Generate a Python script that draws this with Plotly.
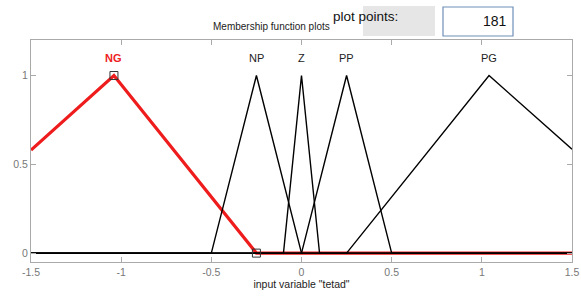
import plotly.graph_objects as go

# Membership functions (breakpoints)
mf_names = ["NG", "NP", "Z", "PP", "PG"]
ng_x = [-1.5, -1.04, -0.25, 1.5]
ng_y = [0.58, 1.0, 0.0, 0.0]
np_x = [-1.5, -0.5, -0.25, 0.0, 1.5]
np_y = [0, 0, 1, 0, 0]
z_x = [-1.5, -0.1, 0.0, 0.1, 1.5]
z_y = [0, 0, 1, 0, 0]
pp_x = [-1.5, 0.0, 0.25, 0.5, 1.5]
pp_y = [0, 0, 1, 0, 0]
pg_x = [-1.5, 0.25, 1.04, 1.5]
pg_y = [0, 0, 1, 0.585]
label_x = [-1.04, -0.25, 0.0, 0.25, 1.04]
label_y = 1.1
x_ticks = [-1.5, -1, -0.5, 0, 0.5, 1, 1.5]
y_ticks = [0, 0.5, 1]

FONT = "Liberation Sans, Arial"
L, R, T, B = 31, 9, 40, 36
W, H = 581, 298
PW, PH = W - L - R, H - T - B


def px(x):
    return (x - L) / PW


def py(y):
    return (H - B - y) / PH


fig = go.Figure()
fig.add_trace(go.Scatter(x=ng_x, y=ng_y, mode="lines",
                         line=dict(color="#ee1c1c", width=3.2), hoverinfo="skip"))
for xs, ys in [(np_x, np_y), (z_x, z_y), (pp_x, pp_y), (pg_x, pg_y)]:
    fig.add_trace(go.Scatter(x=xs, y=ys, mode="lines",
                             line=dict(color="black", width=1.4), hoverinfo="skip"))
# selection markers on NG
fig.add_trace(go.Scatter(x=[ng_x[1], ng_x[2]], y=[ng_y[1], ng_y[2]], mode="markers",
                         marker=dict(symbol="square-open", size=8, color="#333",
                                     line=dict(width=1)), hoverinfo="skip"))

for i, name in enumerate(mf_names):
    fig.add_annotation(x=label_x[i], y=label_y, text=("<b>%s</b>" % name) if i == 0 else name,
                       showarrow=False, xanchor="center", yanchor="middle",
                       font=dict(size=11, color="#ee2222" if i == 0 else "#222", family=FONT))

fig.add_annotation(x=px(271), y=py(27), xref="paper", yref="paper", yanchor="middle",
                   text="Membership function plots", showarrow=False,
                   font=dict(size=10, color="#222", family=FONT))

# plot points widgets
fig.add_shape(type="rect", xref="paper", yref="paper",
              x0=px(363), x1=px(435), y0=py(36), y1=py(6),
              fillcolor="#e6e6e6", line=dict(width=0), layer="above")
fig.add_annotation(x=px(400), y=py(17), xref="paper", yref="paper", yanchor="middle",
                   text="plot points:", showarrow=False,
                   font=dict(size=13.5, color="#111", family=FONT))
fig.add_shape(type="rect", xref="paper", yref="paper",
              x0=px(443), x1=px(513), y0=py(36), y1=py(7),
              fillcolor="white", line=dict(width=1.2, color="#6f8fb8"), layer="above")
fig.add_annotation(x=px(509), y=py(21), xref="paper", yref="paper",
                   text="181", showarrow=False, xanchor="right", yanchor="middle",
                   font=dict(size=14, color="#111", family=FONT))

fig.update_layout(
    width=W, height=H,
    margin=dict(l=L, r=R, t=T, b=B),
    paper_bgcolor="white", plot_bgcolor="white",
    showlegend=False,
    xaxis=dict(range=[-1.5, 1.5], tickvals=x_ticks,
               ticktext=["-1.5", "-1", "-0.5", "0", "0.5", "1", "1.5"],
               ticks="inside", ticklen=5, tickcolor="#aaa", showgrid=False,
               zeroline=False, showline=True, linecolor="#aaa", mirror="ticks",
               automargin=False,
               tickfont=dict(size=10.5, color="#777", family=FONT),
               title=dict(text='input variable "tetad"', standoff=4,
                          font=dict(size=10.5, color="#222", family=FONT))),
    yaxis=dict(range=[-0.05, 1.2], tickvals=y_ticks, ticktext=["0", "0.5", "1"],
               ticks="inside", ticklen=5, tickcolor="#aaa", showgrid=False,
               zeroline=False, showline=True, linecolor="#aaa", mirror="ticks",
               automargin=False,
               tickfont=dict(size=10.5, color="#777", family=FONT)),
)

fig.write_html("out.html", config={"displayModeBar": False},
               post_script="document.body.style.margin='0';")
